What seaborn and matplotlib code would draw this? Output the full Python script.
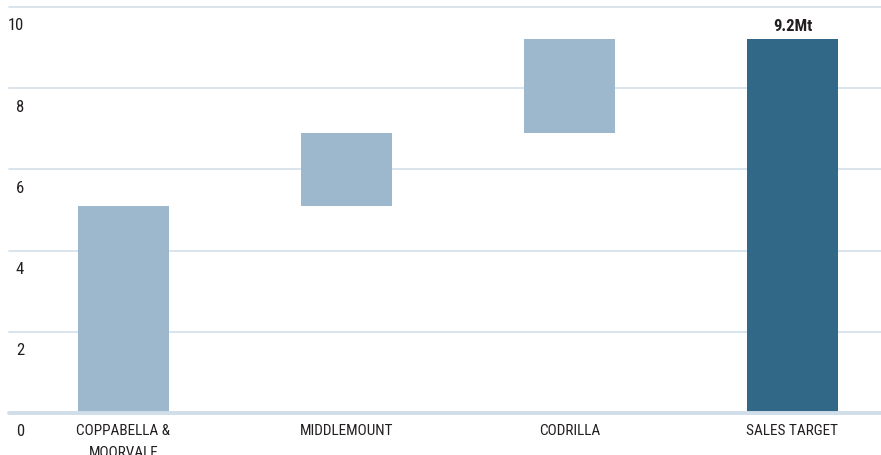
import matplotlib
matplotlib.use("Agg")
import matplotlib.pyplot as plt
import matplotlib.transforms as mtransforms
import seaborn as sns
import pandas as pd
import numpy as np

categories = ["COPPABELLA &\nMOORVALE", "MIDDLEMOUNT", "CODRILLA", "SALES TARGET"]
increments = [5.1, 1.8, 2.3]
total = 9.2
total_label = "9.2Mt"
yticks = [0, 2, 4, 6, 8, 10]
axis_note = "(MILLION TONNES)"

light = "#9db8cc"
dark = "#316887"
grid_c = "#d6e2ea"
base_c = "#d0deea"
text_c = "#231f20"

heights = increments + [total]
bottoms = list(np.concatenate([[0], np.cumsum(increments)[:-1]])) + [0]
df = pd.DataFrame({"category": categories, "height": heights, "bottom": bottoms})

sns.set_theme(style="white")
plt.rcParams["font.family"] = ["Roboto Condensed", "Liberation Sans Narrow", "Roboto", "DejaVu Sans"]

fig = plt.figure(figsize=(8.81, 4.56), dpi=100)
ax = fig.add_axes([9 / 881, 42 / 456, 1 - 9 / 881, 406 / 456])

sns.barplot(data=df, x="category", y="height", bottom=df["bottom"].values,
            color=light, saturation=1, width=0.41, ax=ax, zorder=3)
ax.patches[-1].set_facecolor(dark)
for p in ax.patches:
    p.set_edgecolor("none")

ax.set_xlim(-0.513, 3.397)
ax.set_ylim(0, 10.0)

for t in yticks:
    if t == 0:
        ax.axhline(t, color=base_c, lw=2.8, zorder=4, clip_on=False)
    else:
        ax.axhline(t, color=grid_c, lw=1.3, zorder=1, clip_on=False)

ax.set_yticks([])
ax.set_xticks([])
ax.set_xlabel("")
ax.set_ylabel("")
for s in ax.spines.values():
    s.set_visible(False)

# y tick labels placed beneath each grid line
trans_y = mtransforms.blended_transform_factory(fig.transFigure, ax.transData)
for t in yticks:
    off = mtransforms.offset_copy(trans_y, fig=fig, x=0, y=-18, units="dots")
    ax.text(24 / 881, t, str(t), transform=off, ha="right", va="center",
            fontsize=12, color=text_c)

# x category labels
trans_x = mtransforms.blended_transform_factory(ax.transData, fig.transFigure)
for i, c in enumerate(categories):
    ax.text(i, 1 - 424 / 456, c, transform=trans_x, ha="center", va="top",
            fontsize=11, color=text_c, linespacing=1.75)

# total label
ax.annotate(total_label, (3, total), xytext=(0, 5), textcoords="offset points",
            ha="center", va="bottom", fontsize=12, fontweight="bold", color=text_c)

# axis note cut off at the top edge
fig.text(31 / 881, 1 + 4.5 / 456, axis_note, ha="left", va="baseline",
         fontsize=12, color=text_c)

fig.savefig("out.png", dpi=100)
